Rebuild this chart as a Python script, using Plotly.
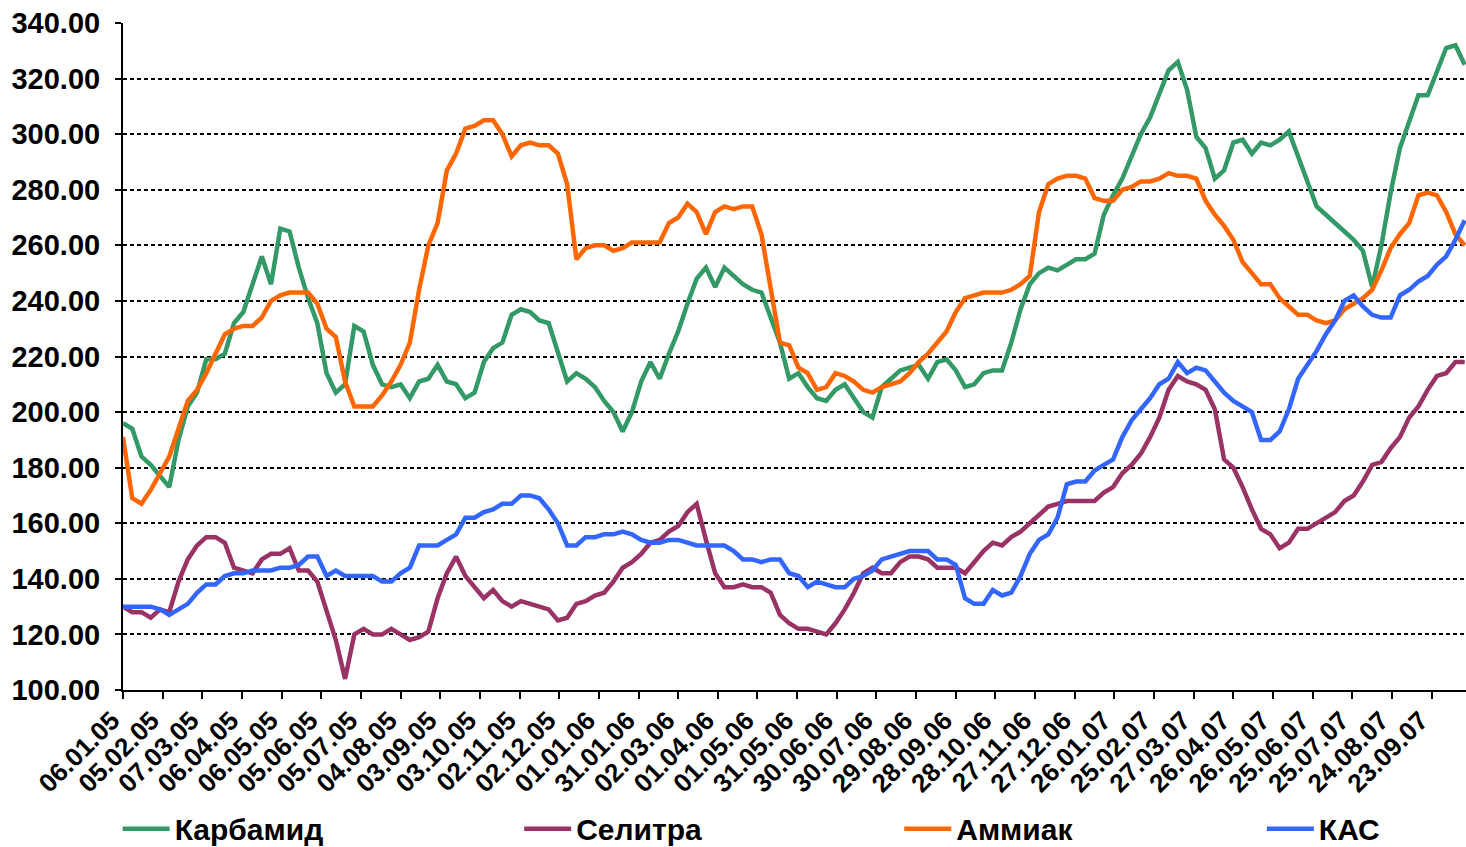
import pandas as pd
import plotly.graph_objects as go

# weekly quotes starting 06.01.2005
dates = pd.date_range("2005-01-06", periods=146, freq="7D")

karbamid = [
    196, 194, 184, 181, 177, 173, 190, 202, 207, 219, 219, 221, 232, 236, 246, 256,
    246, 266, 265, 252, 241, 232, 214, 207, 210, 231, 229, 217, 210, 209, 210, 205,
    211, 212, 217, 211, 210, 205, 207, 218, 223, 225, 235, 237, 236, 233, 232, 221,
    211, 214, 212, 209, 204, 200, 193, 200, 211, 218, 212, 221, 229, 239, 248, 252,
    245, 252, 249, 246, 244, 243, 234, 225, 212, 214, 209, 205, 204, 208, 210, 205,
    200, 198, 209, 212, 215, 216, 217, 212, 218, 219, 215, 209, 210, 214, 215, 215,
    225, 237, 246, 250, 252, 251, 253, 255, 255, 257, 271, 278, 284, 292, 300, 306,
    314, 323, 326, 316, 299, 295, 284, 287, 297, 298, 293, 297, 296, 298, 301, 292,
    283, 274, 271, 268, 265, 262, 258, 245, 260, 279, 295, 305, 314, 314, 323, 331,
    332, 325,
]
selitra = [
    130, 128, 128, 126, 129, 128, 139, 147, 152, 155, 155, 153, 144, 143, 142, 147,
    149, 149, 151, 143, 143, 139, 129, 118, 104, 120, 122, 120, 120, 122, 120, 118,
    119, 121, 133, 142, 148, 141, 137, 133, 136, 132, 130, 132, 131, 130, 129, 125,
    126, 131, 132, 134, 135, 139, 144, 146, 149, 153, 154, 157, 159, 164, 167, 154,
    142, 137, 137, 138, 137, 137, 135, 127, 124, 122, 122, 121, 120, 124, 129, 135,
    142, 144, 142, 142, 146, 148, 148, 147, 144, 144, 144, 142, 146, 150, 153, 152,
    155, 157, 160, 163, 166, 167, 168, 168, 168, 168, 171, 173, 178, 181, 185, 191,
    198, 208, 213, 211, 210, 208, 201, 183, 180, 173, 165, 158, 156, 151, 153, 158,
    158, 160, 162, 164, 168, 170, 175, 181, 182, 187, 191, 198, 202, 208, 213, 214,
    218, 218,
]
ammiak = [
    191, 169, 167, 172, 178, 184, 194, 204, 208, 214, 221, 228, 230, 231, 231, 234,
    240, 242, 243, 243, 243, 239, 230, 227, 211, 202, 202, 202, 206, 211, 217, 225,
    244, 260, 268, 287, 293, 302, 303, 305, 305, 300, 292, 296, 297, 296, 296, 293,
    282, 255, 259, 260, 260, 258, 259, 261, 261, 261, 261, 268, 270, 275, 272, 264,
    272, 274, 273, 274, 274, 264, 245, 225, 224, 216, 214, 208, 209, 214, 213, 211,
    208, 207, 209, 210, 211, 214, 218, 221, 225, 229, 236, 241, 242, 243, 243, 243,
    244, 246, 249, 272, 282, 284, 285, 285, 284, 277, 276, 276, 280, 281, 283, 283,
    284, 286, 285, 285, 284, 276, 271, 267, 262, 254, 250, 246, 246, 241, 238, 235,
    235, 233, 232, 233, 237, 239, 241, 244, 251, 259, 264, 268, 278, 279, 278, 272,
    264, 260,
]
kas = [
    130, 130, 130, 130, 129, 127, 129, 131, 135, 138, 138, 141, 142, 142, 143, 143,
    143, 144, 144, 145, 148, 148, 141, 143, 141, 141, 141, 141, 139, 139, 142, 144,
    152, 152, 152, 154, 156, 162, 162, 164, 165, 167, 167, 170, 170, 169, 165, 160,
    152, 152, 155, 155, 156, 156, 157, 156, 154, 153, 153, 154, 154, 153, 152, 152,
    152, 152, 150, 147, 147, 146, 147, 147, 142, 141, 137, 139, 138, 137, 137, 140,
    141, 143, 147, 148, 149, 150, 150, 150, 147, 147, 145, 133, 131, 131, 136, 134,
    135, 141, 149, 154, 156, 162, 174, 175, 175, 179, 181, 183, 191, 197, 201, 205,
    210, 212, 218, 214, 216, 215, 211, 207, 204, 202, 200, 190, 190, 193, 201, 212,
    217, 222, 228, 233, 240, 242, 238, 235, 234, 234, 242, 244, 247, 249, 253, 256,
    262, 269,
]

series = [
    ("Карбамид", karbamid, "#339966"),
    ("Селитра", selitra, "#993366"),
    ("Аммиак", ammiak, "#ff6600"),
    ("КАС", kas, "#3366ff"),
]
legend_x = [-0.004, 0.295, 0.578, 0.848]

FONT = "Liberation Sans, Arial, sans-serif"

fig = go.Figure()
for i, (name, vals, color) in enumerate(series):
    leg = "legend" if i == 0 else f"legend{i + 1}"
    fig.add_trace(go.Scatter(
        x=dates, y=vals, mode="lines", name=name, legend=leg,
        line=dict(color=color, width=4.5),
    ))

legend_style = dict(
    orientation="h", yanchor="middle", y=-0.208, xanchor="left",
    font=dict(family=FONT, size=30, color="black", weight="bold"),
    itemwidth=47, bgcolor="rgba(0,0,0,0)",
)
fig.update_layout(
    width=1466, height=847,
    margin=dict(l=123, r=0, t=23, b=157, autoexpand=False),
    paper_bgcolor="white", plot_bgcolor="white",
    showlegend=True,
    legend=dict(x=legend_x[0], **legend_style),
    legend2=dict(x=legend_x[1], **legend_style),
    legend3=dict(x=legend_x[2], **legend_style),
    legend4=dict(x=legend_x[3], **legend_style),
)
fig.update_xaxes(
    type="date", range=["2005-01-06", "2007-10-19"], automargin=False,
    tick0="2005-01-06", dtick=30 * 86400000, tickformat="%d.%m.%y",
    tickangle=-45, ticks="outside", ticklen=7, tickwidth=1.5, tickcolor="black",
    tickfont=dict(family=FONT, size=26, color="black", weight="bold"),
    ticklabelstandoff=-4, ticklabelshift=-11,
    showline=True, linecolor="black", linewidth=2, showgrid=False, zeroline=False,
)
fig.update_yaxes(
    range=[100, 340], dtick=20, tickformat=".2f", automargin=False,
    ticks="outside", ticklen=6, tickwidth=1.5, tickcolor="black",
    tickfont=dict(family=FONT, size=29, color="black", weight="bold"),
    ticklabelstandoff=9,
    showline=True, linecolor="black", linewidth=2,
    showgrid=True, gridcolor="black", gridwidth=2, griddash="4px,3px",
    zeroline=False,
)

fig.write_html(
    "out.html",
    config={"displayModeBar": False},
    post_script="document.body.style.margin='0';",
)
